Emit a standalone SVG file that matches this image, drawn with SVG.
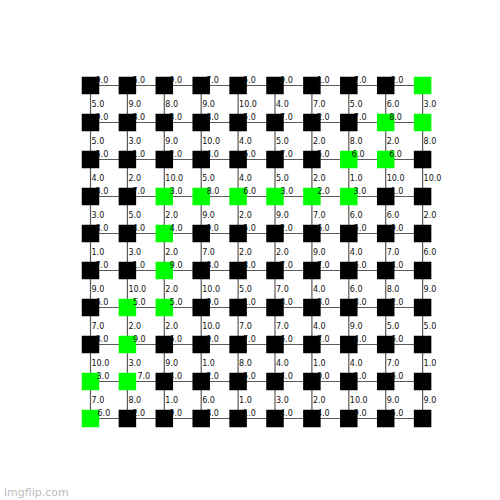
<svg xmlns="http://www.w3.org/2000/svg" width="500" height="500" viewBox="0 0 500 500">
<style>
.e{stroke:#5a5a5a;stroke-width:1.2;fill:none}
.k{fill:#000}
.g{fill:#00ff00}
.n rect{width:17.5px;height:17.5px}
text{font-family:"DejaVu Sans",sans-serif;font-size:8px;fill:#111}
.wm{font-size:11px;fill:#bbb}
</style>
<rect width="500" height="500" fill="#fff"/>
<g id="connectors">
<path class="e" d="M90.5 85.5H127.4"/><path class="e" d="M127.4 85.5H164.3"/><path class="e" d="M164.3 85.5H201.2"/><path class="e" d="M201.2 85.5H238.1"/><path class="e" d="M238.1 85.5H275"/><path class="e" d="M275 85.5H311.9"/><path class="e" d="M311.9 85.5H348.8"/><path class="e" d="M348.8 85.5H385.7"/><path class="e" d="M385.7 85.5H422.6"/>
<path class="e" d="M90.5 122.5H127.4"/><path class="e" d="M127.4 122.5H164.3"/><path class="e" d="M164.3 122.5H201.2"/><path class="e" d="M201.2 122.5H238.1"/><path class="e" d="M238.1 122.5H275"/><path class="e" d="M275 122.5H311.9"/><path class="e" d="M311.9 122.5H348.8"/><path class="e" d="M348.8 122.5H385.7"/><path class="e" d="M385.7 122.5H422.6"/>
<path class="e" d="M90.5 159.5H127.4"/><path class="e" d="M127.4 159.5H164.3"/><path class="e" d="M164.3 159.5H201.2"/><path class="e" d="M201.2 159.5H238.1"/><path class="e" d="M238.1 159.5H275"/><path class="e" d="M275 159.5H311.9"/><path class="e" d="M311.9 159.5H348.8"/><path class="e" d="M348.8 159.5H385.7"/><path class="e" d="M385.7 159.5H422.6"/>
<path class="e" d="M90.5 196.5H127.4"/><path class="e" d="M127.4 196.5H164.3"/><path class="e" d="M164.3 196.5H201.2"/><path class="e" d="M201.2 196.5H238.1"/><path class="e" d="M238.1 196.5H275"/><path class="e" d="M275 196.5H311.9"/><path class="e" d="M311.9 196.5H348.8"/><path class="e" d="M348.8 196.5H385.7"/><path class="e" d="M385.7 196.5H422.6"/>
<path class="e" d="M90.5 233.5H127.4"/><path class="e" d="M127.4 233.5H164.3"/><path class="e" d="M164.3 233.5H201.2"/><path class="e" d="M201.2 233.5H238.1"/><path class="e" d="M238.1 233.5H275"/><path class="e" d="M275 233.5H311.9"/><path class="e" d="M311.9 233.5H348.8"/><path class="e" d="M348.8 233.5H385.7"/><path class="e" d="M385.7 233.5H422.6"/>
<path class="e" d="M90.5 270.5H127.4"/><path class="e" d="M127.4 270.5H164.3"/><path class="e" d="M164.3 270.5H201.2"/><path class="e" d="M201.2 270.5H238.1"/><path class="e" d="M238.1 270.5H275"/><path class="e" d="M275 270.5H311.9"/><path class="e" d="M311.9 270.5H348.8"/><path class="e" d="M348.8 270.5H385.7"/><path class="e" d="M385.7 270.5H422.6"/>
<path class="e" d="M90.5 307.5H127.4"/><path class="e" d="M127.4 307.5H164.3"/><path class="e" d="M164.3 307.5H201.2"/><path class="e" d="M201.2 307.5H238.1"/><path class="e" d="M238.1 307.5H275"/><path class="e" d="M275 307.5H311.9"/><path class="e" d="M311.9 307.5H348.8"/><path class="e" d="M348.8 307.5H385.7"/><path class="e" d="M385.7 307.5H422.6"/>
<path class="e" d="M90.5 344.5H127.4"/><path class="e" d="M127.4 344.5H164.3"/><path class="e" d="M164.3 344.5H201.2"/><path class="e" d="M201.2 344.5H238.1"/><path class="e" d="M238.1 344.5H275"/><path class="e" d="M275 344.5H311.9"/><path class="e" d="M311.9 344.5H348.8"/><path class="e" d="M348.8 344.5H385.7"/><path class="e" d="M385.7 344.5H422.6"/>
<path class="e" d="M90.5 381.5H127.4"/><path class="e" d="M127.4 381.5H164.3"/><path class="e" d="M164.3 381.5H201.2"/><path class="e" d="M201.2 381.5H238.1"/><path class="e" d="M238.1 381.5H275"/><path class="e" d="M275 381.5H311.9"/><path class="e" d="M311.9 381.5H348.8"/><path class="e" d="M348.8 381.5H385.7"/><path class="e" d="M385.7 381.5H422.6"/>
<path class="e" d="M90.5 418.5H127.4"/><path class="e" d="M127.4 418.5H164.3"/><path class="e" d="M164.3 418.5H201.2"/><path class="e" d="M201.2 418.5H238.1"/><path class="e" d="M238.1 418.5H275"/><path class="e" d="M275 418.5H311.9"/><path class="e" d="M311.9 418.5H348.8"/><path class="e" d="M348.8 418.5H385.7"/><path class="e" d="M385.7 418.5H422.6"/>
<path class="e" d="M90.5 85.5V122.5"/><path class="e" d="M127.4 85.5V122.5"/><path class="e" d="M164.3 85.5V122.5"/><path class="e" d="M201.2 85.5V122.5"/><path class="e" d="M238.1 85.5V122.5"/><path class="e" d="M275 85.5V122.5"/><path class="e" d="M311.9 85.5V122.5"/><path class="e" d="M348.8 85.5V122.5"/><path class="e" d="M385.7 85.5V122.5"/><path class="e" d="M422.6 85.5V122.5"/>
<path class="e" d="M90.5 122.5V159.5"/><path class="e" d="M127.4 122.5V159.5"/><path class="e" d="M164.3 122.5V159.5"/><path class="e" d="M201.2 122.5V159.5"/><path class="e" d="M238.1 122.5V159.5"/><path class="e" d="M275 122.5V159.5"/><path class="e" d="M311.9 122.5V159.5"/><path class="e" d="M348.8 122.5V159.5"/><path class="e" d="M385.7 122.5V159.5"/><path class="e" d="M422.6 122.5V159.5"/>
<path class="e" d="M90.5 159.5V196.5"/><path class="e" d="M127.4 159.5V196.5"/><path class="e" d="M164.3 159.5V196.5"/><path class="e" d="M201.2 159.5V196.5"/><path class="e" d="M238.1 159.5V196.5"/><path class="e" d="M275 159.5V196.5"/><path class="e" d="M311.9 159.5V196.5"/><path class="e" d="M348.8 159.5V196.5"/><path class="e" d="M385.7 159.5V196.5"/><path class="e" d="M422.6 159.5V196.5"/>
<path class="e" d="M90.5 196.5V233.5"/><path class="e" d="M127.4 196.5V233.5"/><path class="e" d="M164.3 196.5V233.5"/><path class="e" d="M201.2 196.5V233.5"/><path class="e" d="M238.1 196.5V233.5"/><path class="e" d="M275 196.5V233.5"/><path class="e" d="M311.9 196.5V233.5"/><path class="e" d="M348.8 196.5V233.5"/><path class="e" d="M385.7 196.5V233.5"/><path class="e" d="M422.6 196.5V233.5"/>
<path class="e" d="M90.5 233.5V270.5"/><path class="e" d="M127.4 233.5V270.5"/><path class="e" d="M164.3 233.5V270.5"/><path class="e" d="M201.2 233.5V270.5"/><path class="e" d="M238.1 233.5V270.5"/><path class="e" d="M275 233.5V270.5"/><path class="e" d="M311.9 233.5V270.5"/><path class="e" d="M348.8 233.5V270.5"/><path class="e" d="M385.7 233.5V270.5"/><path class="e" d="M422.6 233.5V270.5"/>
<path class="e" d="M90.5 270.5V307.5"/><path class="e" d="M127.4 270.5V307.5"/><path class="e" d="M164.3 270.5V307.5"/><path class="e" d="M201.2 270.5V307.5"/><path class="e" d="M238.1 270.5V307.5"/><path class="e" d="M275 270.5V307.5"/><path class="e" d="M311.9 270.5V307.5"/><path class="e" d="M348.8 270.5V307.5"/><path class="e" d="M385.7 270.5V307.5"/><path class="e" d="M422.6 270.5V307.5"/>
<path class="e" d="M90.5 307.5V344.5"/><path class="e" d="M127.4 307.5V344.5"/><path class="e" d="M164.3 307.5V344.5"/><path class="e" d="M201.2 307.5V344.5"/><path class="e" d="M238.1 307.5V344.5"/><path class="e" d="M275 307.5V344.5"/><path class="e" d="M311.9 307.5V344.5"/><path class="e" d="M348.8 307.5V344.5"/><path class="e" d="M385.7 307.5V344.5"/><path class="e" d="M422.6 307.5V344.5"/>
<path class="e" d="M90.5 344.5V381.5"/><path class="e" d="M127.4 344.5V381.5"/><path class="e" d="M164.3 344.5V381.5"/><path class="e" d="M201.2 344.5V381.5"/><path class="e" d="M238.1 344.5V381.5"/><path class="e" d="M275 344.5V381.5"/><path class="e" d="M311.9 344.5V381.5"/><path class="e" d="M348.8 344.5V381.5"/><path class="e" d="M385.7 344.5V381.5"/><path class="e" d="M422.6 344.5V381.5"/>
<path class="e" d="M90.5 381.5V418.5"/><path class="e" d="M127.4 381.5V418.5"/><path class="e" d="M164.3 381.5V418.5"/><path class="e" d="M201.2 381.5V418.5"/><path class="e" d="M238.1 381.5V418.5"/><path class="e" d="M275 381.5V418.5"/><path class="e" d="M311.9 381.5V418.5"/><path class="e" d="M348.8 381.5V418.5"/><path class="e" d="M385.7 381.5V418.5"/><path class="e" d="M422.6 381.5V418.5"/>
</g>
<g id="nodes">
<g id="n0_0" class="n"><rect class="k" x="81.75" y="76.75"/></g><g id="n0_1" class="n"><rect class="k" x="118.65" y="76.75"/></g><g id="n0_2" class="n"><rect class="k" x="155.55" y="76.75"/></g><g id="n0_3" class="n"><rect class="k" x="192.45" y="76.75"/></g><g id="n0_4" class="n"><rect class="k" x="229.35" y="76.75"/></g><g id="n0_5" class="n"><rect class="k" x="266.25" y="76.75"/></g><g id="n0_6" class="n"><rect class="k" x="303.15" y="76.75"/></g><g id="n0_7" class="n"><rect class="k" x="340.05" y="76.75"/></g><g id="n0_8" class="n"><rect class="k" x="376.95" y="76.75"/></g><g id="n0_9" class="n"><rect class="g" x="413.85" y="76.75"/></g>
<g id="n1_0" class="n"><rect class="k" x="81.75" y="113.75"/></g><g id="n1_1" class="n"><rect class="k" x="118.65" y="113.75"/></g><g id="n1_2" class="n"><rect class="k" x="155.55" y="113.75"/></g><g id="n1_3" class="n"><rect class="k" x="192.45" y="113.75"/></g><g id="n1_4" class="n"><rect class="k" x="229.35" y="113.75"/></g><g id="n1_5" class="n"><rect class="k" x="266.25" y="113.75"/></g><g id="n1_6" class="n"><rect class="k" x="303.15" y="113.75"/></g><g id="n1_7" class="n"><rect class="k" x="340.05" y="113.75"/></g><g id="n1_8" class="n"><rect class="g" x="376.95" y="113.75"/></g><g id="n1_9" class="n"><rect class="g" x="413.85" y="113.75"/></g>
<g id="n2_0" class="n"><rect class="k" x="81.75" y="150.75"/></g><g id="n2_1" class="n"><rect class="k" x="118.65" y="150.75"/></g><g id="n2_2" class="n"><rect class="k" x="155.55" y="150.75"/></g><g id="n2_3" class="n"><rect class="k" x="192.45" y="150.75"/></g><g id="n2_4" class="n"><rect class="k" x="229.35" y="150.75"/></g><g id="n2_5" class="n"><rect class="k" x="266.25" y="150.75"/></g><g id="n2_6" class="n"><rect class="k" x="303.15" y="150.75"/></g><g id="n2_7" class="n"><rect class="g" x="340.05" y="150.75"/></g><g id="n2_8" class="n"><rect class="g" x="376.95" y="150.75"/></g><g id="n2_9" class="n"><rect class="k" x="413.85" y="150.75"/></g>
<g id="n3_0" class="n"><rect class="k" x="81.75" y="187.75"/></g><g id="n3_1" class="n"><rect class="k" x="118.65" y="187.75"/></g><g id="n3_2" class="n"><rect class="g" x="155.55" y="187.75"/></g><g id="n3_3" class="n"><rect class="g" x="192.45" y="187.75"/></g><g id="n3_4" class="n"><rect class="g" x="229.35" y="187.75"/></g><g id="n3_5" class="n"><rect class="g" x="266.25" y="187.75"/></g><g id="n3_6" class="n"><rect class="g" x="303.15" y="187.75"/></g><g id="n3_7" class="n"><rect class="g" x="340.05" y="187.75"/></g><g id="n3_8" class="n"><rect class="k" x="376.95" y="187.75"/></g><g id="n3_9" class="n"><rect class="k" x="413.85" y="187.75"/></g>
<g id="n4_0" class="n"><rect class="k" x="81.75" y="224.75"/></g><g id="n4_1" class="n"><rect class="k" x="118.65" y="224.75"/></g><g id="n4_2" class="n"><rect class="g" x="155.55" y="224.75"/></g><g id="n4_3" class="n"><rect class="k" x="192.45" y="224.75"/></g><g id="n4_4" class="n"><rect class="k" x="229.35" y="224.75"/></g><g id="n4_5" class="n"><rect class="k" x="266.25" y="224.75"/></g><g id="n4_6" class="n"><rect class="k" x="303.15" y="224.75"/></g><g id="n4_7" class="n"><rect class="k" x="340.05" y="224.75"/></g><g id="n4_8" class="n"><rect class="k" x="376.95" y="224.75"/></g><g id="n4_9" class="n"><rect class="k" x="413.85" y="224.75"/></g>
<g id="n5_0" class="n"><rect class="k" x="81.75" y="261.75"/></g><g id="n5_1" class="n"><rect class="k" x="118.65" y="261.75"/></g><g id="n5_2" class="n"><rect class="g" x="155.55" y="261.75"/></g><g id="n5_3" class="n"><rect class="k" x="192.45" y="261.75"/></g><g id="n5_4" class="n"><rect class="k" x="229.35" y="261.75"/></g><g id="n5_5" class="n"><rect class="k" x="266.25" y="261.75"/></g><g id="n5_6" class="n"><rect class="k" x="303.15" y="261.75"/></g><g id="n5_7" class="n"><rect class="k" x="340.05" y="261.75"/></g><g id="n5_8" class="n"><rect class="k" x="376.95" y="261.75"/></g><g id="n5_9" class="n"><rect class="k" x="413.85" y="261.75"/></g>
<g id="n6_0" class="n"><rect class="k" x="81.75" y="298.75"/></g><g id="n6_1" class="n"><rect class="g" x="118.65" y="298.75"/></g><g id="n6_2" class="n"><rect class="g" x="155.55" y="298.75"/></g><g id="n6_3" class="n"><rect class="k" x="192.45" y="298.75"/></g><g id="n6_4" class="n"><rect class="k" x="229.35" y="298.75"/></g><g id="n6_5" class="n"><rect class="k" x="266.25" y="298.75"/></g><g id="n6_6" class="n"><rect class="k" x="303.15" y="298.75"/></g><g id="n6_7" class="n"><rect class="k" x="340.05" y="298.75"/></g><g id="n6_8" class="n"><rect class="k" x="376.95" y="298.75"/></g><g id="n6_9" class="n"><rect class="k" x="413.85" y="298.75"/></g>
<g id="n7_0" class="n"><rect class="k" x="81.75" y="335.75"/></g><g id="n7_1" class="n"><rect class="g" x="118.65" y="335.75"/></g><g id="n7_2" class="n"><rect class="k" x="155.55" y="335.75"/></g><g id="n7_3" class="n"><rect class="k" x="192.45" y="335.75"/></g><g id="n7_4" class="n"><rect class="k" x="229.35" y="335.75"/></g><g id="n7_5" class="n"><rect class="k" x="266.25" y="335.75"/></g><g id="n7_6" class="n"><rect class="k" x="303.15" y="335.75"/></g><g id="n7_7" class="n"><rect class="k" x="340.05" y="335.75"/></g><g id="n7_8" class="n"><rect class="k" x="376.95" y="335.75"/></g><g id="n7_9" class="n"><rect class="k" x="413.85" y="335.75"/></g>
<g id="n8_0" class="n"><rect class="g" x="81.75" y="372.75"/></g><g id="n8_1" class="n"><rect class="g" x="118.65" y="372.75"/></g><g id="n8_2" class="n"><rect class="k" x="155.55" y="372.75"/></g><g id="n8_3" class="n"><rect class="k" x="192.45" y="372.75"/></g><g id="n8_4" class="n"><rect class="k" x="229.35" y="372.75"/></g><g id="n8_5" class="n"><rect class="k" x="266.25" y="372.75"/></g><g id="n8_6" class="n"><rect class="k" x="303.15" y="372.75"/></g><g id="n8_7" class="n"><rect class="k" x="340.05" y="372.75"/></g><g id="n8_8" class="n"><rect class="k" x="376.95" y="372.75"/></g><g id="n8_9" class="n"><rect class="k" x="413.85" y="372.75"/></g>
<g id="n9_0" class="n"><rect class="g" x="81.75" y="409.75"/></g><g id="n9_1" class="n"><rect class="k" x="118.65" y="409.75"/></g><g id="n9_2" class="n"><rect class="k" x="155.55" y="409.75"/></g><g id="n9_3" class="n"><rect class="k" x="192.45" y="409.75"/></g><g id="n9_4" class="n"><rect class="k" x="229.35" y="409.75"/></g><g id="n9_5" class="n"><rect class="k" x="266.25" y="409.75"/></g><g id="n9_6" class="n"><rect class="k" x="303.15" y="409.75"/></g><g id="n9_7" class="n"><rect class="k" x="340.05" y="409.75"/></g><g id="n9_8" class="n"><rect class="k" x="376.95" y="409.75"/></g><g id="n9_9" class="n"><rect class="k" x="413.85" y="409.75"/></g>
</g>
<g id="edge-labels">
<text x="95.5" y="83.2">9.0</text><text x="132.4" y="83.2">5.0</text><text x="169.3" y="83.2">9.0</text><text x="206.2" y="83.2">7.0</text><text x="243.1" y="83.2">5.0</text><text x="280" y="83.2">9.0</text><text x="316.9" y="83.2">1.0</text><text x="353.8" y="83.2">7.0</text><text x="390.7" y="83.2">2.0</text>
<text x="95.5" y="120.2">9.0</text><text x="132.4" y="120.2">3.0</text><text x="169.3" y="120.2">3.0</text><text x="206.2" y="120.2">8.0</text><text x="243.1" y="120.2">5.0</text><text x="280" y="120.2">7.0</text><text x="316.9" y="120.2">2.0</text><text x="353.8" y="120.2">7.0</text><text x="389.2" y="120.2">8.0</text>
<text x="95.5" y="157.2">5.0</text><text x="132.4" y="157.2">1.0</text><text x="169.3" y="157.2">2.0</text><text x="206.2" y="157.2">4.0</text><text x="243.1" y="157.2">6.0</text><text x="280" y="157.2">7.0</text><text x="316.9" y="157.2">5.0</text><text x="351.8" y="157.2">6.0</text><text x="389.2" y="157.2">6.0</text>
<text x="95.5" y="194.2">3.0</text><text x="132.4" y="194.2">7.0</text><text x="169.8" y="194.2">3.0</text><text x="206.7" y="194.2">8.0</text><text x="243.3" y="194.2">6.0</text><text x="280.5" y="194.2">3.0</text><text x="317.2" y="194.2">2.0</text><text x="353.5" y="194.2">3.0</text><text x="390.7" y="194.2">1.0</text>
<text x="95.5" y="231.2">8.0</text><text x="132.4" y="231.2">4.0</text><text x="169.8" y="231.2">4.0</text><text x="206.2" y="231.2">9.0</text><text x="243.1" y="231.2">5.0</text><text x="280" y="231.2">2.0</text><text x="316.9" y="231.2">6.0</text><text x="353.8" y="231.2">5.0</text><text x="390.7" y="231.2">9.0</text>
<text x="95.5" y="268.2">7.0</text><text x="132.4" y="268.2">1.0</text><text x="169.8" y="268.2">9.0</text><text x="206.2" y="268.2">8.0</text><text x="243.1" y="268.2">8.0</text><text x="280" y="268.2">7.0</text><text x="316.9" y="268.2">7.0</text><text x="353.8" y="268.2">6.0</text><text x="390.7" y="268.2">4.0</text>
<text x="95.5" y="305.2">6.0</text><text x="132.9" y="305.2">5.0</text><text x="169.8" y="305.2">5.0</text><text x="206.2" y="305.2">9.0</text><text x="243.1" y="305.2">1.0</text><text x="280" y="305.2">8.0</text><text x="316.9" y="305.2">3.0</text><text x="353.8" y="305.2">8.0</text><text x="390.7" y="305.2">2.0</text>
<text x="95.5" y="342.2">8.0</text><text x="132.9" y="342.2">9.0</text><text x="169.3" y="342.2">6.0</text><text x="206.2" y="342.2">9.0</text><text x="243.1" y="342.2">7.0</text><text x="280" y="342.2">6.0</text><text x="316.9" y="342.2">7.0</text><text x="353.8" y="342.2">4.0</text><text x="390.7" y="342.2">6.0</text>
<text x="96.5" y="379.2">3.0</text><text x="137.4" y="379.2">7.0</text><text x="169.3" y="379.2">4.0</text><text x="206.2" y="379.2">2.0</text><text x="243.1" y="379.2">5.0</text><text x="280" y="379.2">4.0</text><text x="316.9" y="379.2">9.0</text><text x="353.8" y="379.2">1.0</text><text x="390.7" y="379.2">6.0</text>
<text x="97.5" y="416.2">6.0</text><text x="132.4" y="416.2">2.0</text><text x="169.3" y="416.2">9.0</text><text x="206.2" y="416.2">3.0</text><text x="243.1" y="416.2">1.0</text><text x="280" y="416.2">4.0</text><text x="316.9" y="416.2">4.0</text><text x="353.8" y="416.2">9.0</text><text x="390.7" y="416.2">5.0</text>
<text x="91.5" y="107">5.0</text><text x="128.4" y="107">9.0</text><text x="165.3" y="107">8.0</text><text x="202.2" y="107">9.0</text><text x="239.1" y="107">10.0</text><text x="276" y="107">4.0</text><text x="312.9" y="107">7.0</text><text x="349.8" y="107">5.0</text><text x="386.7" y="107">6.0</text><text x="423.6" y="107">3.0</text>
<text x="91.5" y="144">5.0</text><text x="128.4" y="144">3.0</text><text x="165.3" y="144">9.0</text><text x="202.2" y="144">10.0</text><text x="239.1" y="144">4.0</text><text x="276" y="144">5.0</text><text x="312.9" y="144">2.0</text><text x="349.8" y="144">8.0</text><text x="386.7" y="144">2.0</text><text x="423.6" y="144">8.0</text>
<text x="91.5" y="181">4.0</text><text x="128.4" y="181">2.0</text><text x="165.3" y="181">10.0</text><text x="202.2" y="181">5.0</text><text x="239.1" y="181">4.0</text><text x="276" y="181">5.0</text><text x="312.9" y="181">2.0</text><text x="349.8" y="181">1.0</text><text x="386.7" y="181">10.0</text><text x="423.6" y="181">10.0</text>
<text x="91.5" y="218">3.0</text><text x="128.4" y="218">5.0</text><text x="165.3" y="218">2.0</text><text x="202.2" y="218">9.0</text><text x="239.1" y="218">2.0</text><text x="276" y="218">9.0</text><text x="312.9" y="218">7.0</text><text x="349.8" y="218">6.0</text><text x="386.7" y="218">6.0</text><text x="423.6" y="218">2.0</text>
<text x="91.5" y="255">1.0</text><text x="128.4" y="255">3.0</text><text x="165.3" y="255">2.0</text><text x="202.2" y="255">7.0</text><text x="239.1" y="255">2.0</text><text x="276" y="255">2.0</text><text x="312.9" y="255">9.0</text><text x="349.8" y="255">4.0</text><text x="386.7" y="255">7.0</text><text x="423.6" y="255">6.0</text>
<text x="91.5" y="292">9.0</text><text x="128.4" y="292">10.0</text><text x="165.3" y="292">2.0</text><text x="202.2" y="292">10.0</text><text x="239.1" y="292">5.0</text><text x="276" y="292">7.0</text><text x="312.9" y="292">4.0</text><text x="349.8" y="292">6.0</text><text x="386.7" y="292">8.0</text><text x="423.6" y="292">9.0</text>
<text x="91.5" y="329">7.0</text><text x="128.4" y="329">2.0</text><text x="165.3" y="329">2.0</text><text x="202.2" y="329">10.0</text><text x="239.1" y="329">7.0</text><text x="276" y="329">7.0</text><text x="312.9" y="329">4.0</text><text x="349.8" y="329">9.0</text><text x="386.7" y="329">5.0</text><text x="423.6" y="329">5.0</text>
<text x="91.5" y="366">10.0</text><text x="128.4" y="366">3.0</text><text x="165.3" y="366">9.0</text><text x="202.2" y="366">1.0</text><text x="239.1" y="366">8.0</text><text x="276" y="366">4.0</text><text x="312.9" y="366">1.0</text><text x="349.8" y="366">4.0</text><text x="386.7" y="366">7.0</text><text x="423.6" y="366">1.0</text>
<text x="91.5" y="403">7.0</text><text x="128.4" y="403">8.0</text><text x="165.3" y="403">1.0</text><text x="202.2" y="403">6.0</text><text x="239.1" y="403">1.0</text><text x="276" y="403">3.0</text><text x="312.9" y="403">2.0</text><text x="349.8" y="403">10.0</text><text x="386.7" y="403">9.0</text><text x="423.6" y="403">9.0</text>
</g>
<text class="wm" x="4" y="496">imgflip.com</text>
</svg>
